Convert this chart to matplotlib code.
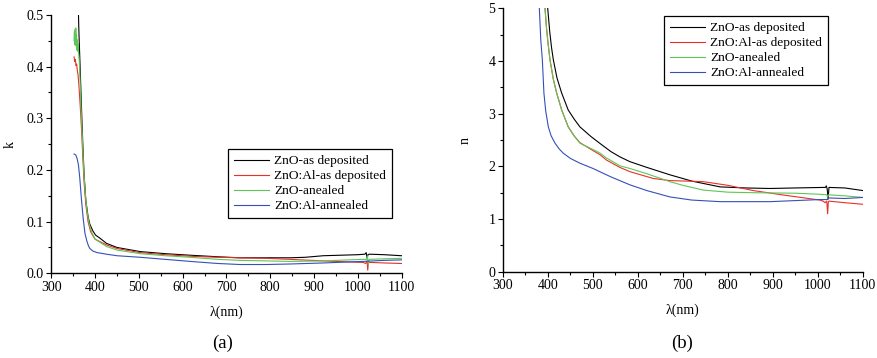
import matplotlib
matplotlib.use("Agg")
import matplotlib.pyplot as plt
from matplotlib.ticker import MultipleLocator, FormatStrFormatter

plt.rcParams["font.family"] = ["Liberation Serif", "DejaVu Serif"]
plt.rcParams["font.size"] = 10

labels = ["ZnO-as deposited", "ZnO:Al-as deposited", "ZnO-anealed", "ZnO:Al-annealed"]
colors = ["#000000", "#e8302a", "#5ec656", "#3550b8"]

# extinction coefficient k
k_black_wl = [361.5, 363, 365, 367, 369, 372, 375, 379, 384, 388, 395, 401, 411, 426, 450, 503,
              560, 617, 680, 731, 790, 845, 880, 921, 960, 1000, 1016, 1019, 1021, 1023, 1026, 1060, 1100]
k_black = [0.52, 0.47, 0.42, 0.37, 0.32, 0.25, 0.19, 0.14, 0.11, 0.095, 0.082, 0.074, 0.068, 0.058,
           0.050, 0.042, 0.038, 0.035, 0.032, 0.030, 0.030, 0.030, 0.031, 0.034, 0.035, 0.036,
           0.037, 0.040, 0.030, 0.036, 0.037, 0.036, 0.034]

k_red_wl = [352, 353.5, 355, 356.5, 358, 359.5, 361, 363, 366, 369, 372, 375, 379, 384, 390, 400,
            426, 450, 503, 560, 617, 680, 731, 790, 845, 921, 980, 1012, 1018, 1021, 1022.5, 1024,
            1030, 1060, 1100]
k_red = [0.419, 0.410, 0.414, 0.402, 0.405, 0.392, 0.385, 0.365, 0.325, 0.280, 0.225, 0.175,
         0.132, 0.100, 0.080, 0.066, 0.055, 0.048, 0.040, 0.036, 0.033, 0.031, 0.030, 0.029,
         0.027, 0.024, 0.022, 0.021, 0.019, 0.024, 0.006, 0.021, 0.021, 0.020, 0.019]

k_green_wl = [352, 352.8, 353.6, 354.4, 355.2, 356, 356.8, 357.6, 358.4, 359.2, 360, 361, 362.5,
              364, 366, 368, 371, 374, 378, 382, 387, 393, 400, 426, 450, 503, 560, 617, 680,
              731, 790, 845, 921, 980, 1012, 1020, 1022, 1023.5, 1026, 1060, 1100]
k_green = [0.450, 0.468, 0.442, 0.472, 0.448, 0.475, 0.440, 0.462, 0.432, 0.452, 0.430, 0.445,
           0.425, 0.410, 0.370, 0.320, 0.260, 0.200, 0.150, 0.118, 0.094, 0.078, 0.066, 0.052,
           0.045, 0.038, 0.034, 0.031, 0.027, 0.025, 0.024, 0.023, 0.024, 0.026, 0.027, 0.027,
           0.034, 0.017, 0.027, 0.028, 0.029]

k_blue_wl = [352, 356, 359, 362, 365, 369, 373, 377, 381, 385, 388, 395, 405, 426, 450, 503, 560,
             617, 680, 731, 790, 845, 921, 980, 1012, 1060, 1100]
k_blue = [0.231, 0.229, 0.222, 0.210, 0.185, 0.142, 0.105, 0.077, 0.063, 0.053, 0.048, 0.043,
          0.040, 0.037, 0.034, 0.031, 0.027, 0.023, 0.019, 0.017, 0.017, 0.018, 0.020, 0.022,
          0.023, 0.025, 0.026]

# refractive index n
n_black_wl = [394, 397, 399.4, 404, 408, 412, 420, 430.5, 445, 458, 471, 495, 519.5, 540, 560, 582,
              620, 671, 720, 783, 840, 894, 950, 1012, 1017, 1019, 1021, 1023, 1025, 1060, 1101]
n_black = [6.0, 5.4, 5.0, 4.55, 4.25, 4.02, 3.68, 3.39, 3.07, 2.9, 2.75, 2.57, 2.41, 2.28, 2.18,
           2.09, 1.98, 1.84, 1.72, 1.61, 1.59, 1.58, 1.59, 1.60, 1.60, 1.63, 1.57, 1.38, 1.60,
           1.59, 1.54]

n_red_wl = [388, 391, 393.4, 397, 400, 404.5, 412, 419.4, 430.5, 445, 458, 471, 500, 516, 530, 560,
            582, 634, 671, 745, 800, 857, 920, 1005, 1012, 1016, 1020, 1022, 1023.5, 1025, 1060,
            1101]
n_red = [6.0, 5.4, 5.0, 4.6, 4.35, 4.02, 3.65, 3.39, 3.07, 2.75, 2.58, 2.45, 2.30, 2.22, 2.12,
         1.98, 1.90, 1.77, 1.73, 1.71, 1.64, 1.54, 1.46, 1.36, 1.34, 1.31, 1.34, 1.10, 1.33, 1.34,
         1.31, 1.28]

n_green_wl = [388, 391, 393.4, 397, 400, 404.5, 412, 419.4, 430.5, 445, 458, 471, 500, 516, 530, 560,
              582, 620, 671, 700, 745, 800, 857, 950, 1005, 1020, 1022, 1024, 1060, 1101]
n_green = [6.0, 5.4, 5.0, 4.6, 4.35, 4.02, 3.65, 3.39, 3.07, 2.75, 2.58, 2.44, 2.32, 2.25, 2.16,
           2.01, 1.96, 1.86, 1.71, 1.64, 1.55, 1.51, 1.50, 1.49, 1.47, 1.46, 1.42, 1.46, 1.44,
           1.41]

n_blue_wl = [377, 380.8, 384, 387.5, 391, 395, 400.8, 407, 415.7, 425, 434, 450, 471, 500, 540, 582,
             620, 671, 720, 783, 840, 894, 950, 1005, 1022, 1024, 1060, 1101]
n_blue = [6.0, 5.0, 4.4, 4.02, 3.39, 3.05, 2.75, 2.58, 2.44, 2.33, 2.25, 2.15, 2.06, 1.96, 1.80,
          1.65, 1.54, 1.42, 1.36, 1.33, 1.33, 1.33, 1.35, 1.37, 1.37, 1.40, 1.39, 1.41]

k_series = [(k_black_wl, k_black), (k_red_wl, k_red), (k_green_wl, k_green), (k_blue_wl, k_blue)]
n_series = [(n_black_wl, n_black), (n_red_wl, n_red), (n_green_wl, n_green), (n_blue_wl, n_blue)]

fig = plt.figure(figsize=(8.78, 3.58), dpi=100)
ax1 = fig.add_axes([0.0584, 0.2366, 0.3991, 0.7215])
ax2 = fig.add_axes([0.5729, 0.2410, 0.4097, 0.7358])


def style_axes(ax):
    for side in ["top", "right"]:
        ax.spines[side].set_visible(False)
    for side in ["left", "bottom"]:
        ax.spines[side].set_linewidth(1.0)
    ax.set_xlim(300, 1100)
    ax.xaxis.set_major_locator(MultipleLocator(100))
    ax.xaxis.set_minor_locator(MultipleLocator(50))
    ax.tick_params(which="major", direction="out", length=3.5, width=0.8, labelsize=10, pad=2)
    ax.tick_params(which="minor", direction="out", length=2, width=0.8)
    ax.set_xlabel("λ(nm)", fontsize=10, labelpad=8)


def add_legend(ax, anchor):
    leg = ax.legend(loc="upper right", bbox_to_anchor=anchor, fancybox=False,
                    edgecolor="black", fontsize=9.6, handlelength=2.6, borderpad=0.45,
                    labelspacing=0.2, handletextpad=0.4, borderaxespad=0, framealpha=1)
    leg.get_frame().set_linewidth(0.9)


for (wl, vals), c, lab in zip(k_series, colors, labels):
    ax1.plot(wl, vals, color=c, lw=0.8, label=lab)
style_axes(ax1)
ax1.set_ylim(0, 0.5)
ax1.yaxis.set_major_locator(MultipleLocator(0.1))
ax1.yaxis.set_minor_locator(MultipleLocator(0.05))
ax1.yaxis.set_major_formatter(FormatStrFormatter("%.1f"))
ax1.set_ylabel("k", fontsize=10, labelpad=7)
add_legend(ax1, (0.972, 0.481))

for (wl, vals), c, lab in zip(n_series, colors, labels):
    ax2.plot(wl, vals, color=c, lw=0.8, label=lab)
style_axes(ax2)
ax2.set_ylim(0, 5)
ax2.yaxis.set_major_locator(MultipleLocator(1))
ax2.yaxis.set_minor_locator(MultipleLocator(0.5))
ax2.set_ylabel("n", fontsize=10, labelpad=12)
add_legend(ax2, (0.904, 0.971))

fig.text(0.253, 0.042, "(a)", ha="center", va="center", fontsize=13.5)
fig.text(0.777, 0.042, "(b)", ha="center", va="center", fontsize=13.5)

fig.savefig("out.png", dpi=100)
